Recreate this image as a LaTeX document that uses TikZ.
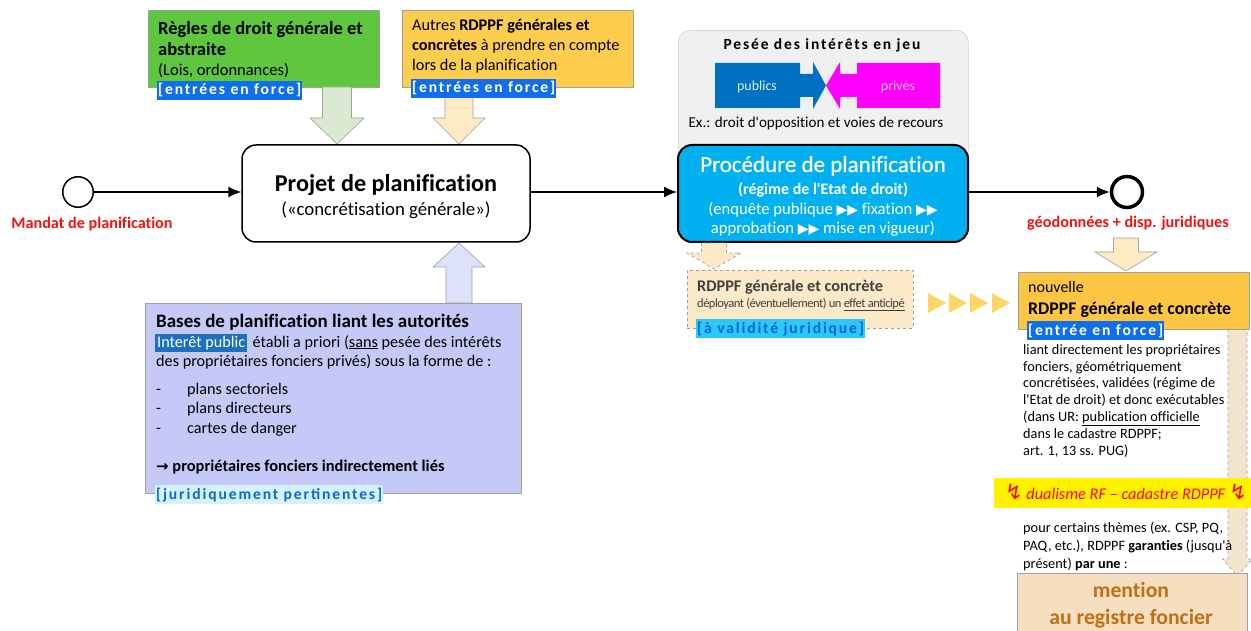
\documentclass[tikz,border=0pt]{standalone}
\usepackage{fontspec}
\setmainfont{Carlito}[Ligatures=NoCommon]
\newfontfamily\dejavu{DejaVu Sans}
\newfontfamily\spacedfont[LetterSpace=12]{Carlito}
\newfontfamily\condfont[LetterSpace=-4,Ligatures=NoCommon]{Carlito}
\newfontfamily\semibfont[FakeBold=0.7,Ligatures=NoCommon]{Carlito}
\usetikzlibrary{arrows.meta,calc}
\newcommand{\myfs}[2]{\fontsize{#1}{#2}\selectfont}
\newcommand{\apos}{\textquotesingle}
\newcommand{\tri}{{\dejavu\myfs{14}{12}▶}}
\definecolor{cgreen}{RGB}{94,198,63}
\definecolor{cyellow}{RGB}{255,205,78}
\definecolor{corange}{RGB}{253,198,66}
\definecolor{clav}{RGB}{197,201,248}
\definecolor{cbord}{RGB}{160,160,160}
\definecolor{hlblue}{RGB}{16,110,235}
\definecolor{hldark}{RGB}{28,112,190}
\definecolor{hlcyan}{RGB}{45,200,250}
\definecolor{hlpale}{RGB}{212,243,255}
\definecolor{tblue}{RGB}{10,100,220}
\definecolor{agreen}{RGB}{218,234,210}
\definecolor{ayellow}{RGB}{254,235,196}
\definecolor{ablue}{RGB}{222,225,250}
\definecolor{cgray}{RGB}{240,240,240}
\definecolor{cgrayb}{RGB}{205,205,205}
\definecolor{cpub}{RGB}{0,112,192}
\definecolor{cpriv}{RGB}{255,0,255}
\definecolor{ccyan}{RGB}{0,176,240}
\definecolor{mred}{RGB}{240,20,20}
\definecolor{cdash}{RGB}{252,233,200}
\definecolor{cbeige}{RGB}{242,228,205}
\definecolor{cmention}{RGB}{246,222,192}
\definecolor{cbrown}{RGB}{192,112,20}
\definecolor{ctri}{RGB}{255,214,102}
\definecolor{cdark}{RGB}{64,64,64}
% block arrow: [style] cx, y0, ytip, shaft half width, head half width, head length (signed)
\newcommand{\blockarrow}[7][]{%
  \draw[#1] ({#2-#5},#3) -- ({#2-#5},{#4-#7}) -- ({#2-#6},{#4-#7}) -- (#2,#4)
    -- ({#2+#6},{#4-#7}) -- ({#2+#5},{#4-#7}) -- ({#2+#5},#3) -- cycle;}
\tikzset{
  flow/.style={line width=1.6pt, -{Latex[length=13pt,width=11pt]}},
  boxs/.style={draw=cbord, line width=0.6pt, anchor=north west, inner sep=0},
  txt/.style={inner sep=0, anchor=base west, align=left},
  ctxt/.style={inner sep=0, anchor=base, align=center},
  hl/.style={inner xsep=1pt, inner ysep=1pt, text height=13pt, text depth=4pt,
    anchor=base west, font=\spacedfont\bfseries\myfs{15.6}{17}},
  barrow/.style={draw=cbord, line width=0.6pt},
  darrow/.style={draw=cbord, line width=0.7pt, dashed},
}
\begin{document}
\begin{tikzpicture}[x=1pt,y=-1pt]
\clip (0,0) rectangle (1251,631);
\fill[white] (0,0) rectangle (1251,631);

% ---------- top boxes ----------
\node[boxs, fill=cgreen, minimum width=231pt, minimum height=77pt] (green) at (148,10) {};
\node[txt, font=\bfseries\myfs{18.5}{20.5}] (greentxt) at (158,76)
  {Règles de droit générale et\\abstraite\\{\mdseries\myfs{16.5}{20.5}(Lois, ordonnances)}};

\node[boxs, fill=cyellow, minimum width=231pt, minimum height=77pt] (yel) at (402,10) {};
\node[txt, font=\myfs{16.3}{20}] (yeltxt) at (412,71)
  {Autres \textbf{RDPPF générales et}\\\textbf{concrètes} à prendre en compte\\lors de la planification};

\blockarrow[barrow, fill=agreen]{337}{87}{144}{14.5}{27}{26}
\blockarrow[barrow, fill=ayellow]{459}{87}{144}{14}{26}{26}

\node[hl, fill=hlblue, text=white] (greenhl) at (157,95) {[entrées en force]};
\node[hl, fill=hlblue, text=white] (yelhl) at (411,93) {[entrées en force]};

% ---------- start ----------
\node[circle, draw, line width=1.5pt, minimum size=30.5pt, inner sep=0] (start) at (78,192) {};
\node[ctxt, text=mred, font=\bfseries\myfs{16.2}{18}] (mandat) at (92,229) {Mandat de planification};

% ---------- projet ----------
\node[draw, line width=1.5pt, rounded corners=14pt, minimum width=288pt, minimum height=97pt, fill=white, inner sep=0] (projet) at (386,193.5) {};
\node[ctxt, font=\bfseries\myfs{24.2}{26}] (projet1) at (386,192) {Projet de planification};
\node[ctxt, font=\myfs{18.8}{20}] (projet2) at (386,216) {(«concrétisation générale»)};

% ---------- bottom-left lavender box ----------
\node[boxs, fill=clav, minimum width=376pt, minimum height=190pt] (bases) at (145,303) {};
\blockarrow[barrow, fill=ablue]{459}{303}{243}{13}{26}{-24}
\node[txt, font=\bfseries\myfs{19}{20}] (basestitle) at (156,327) {Bases de planification liant les autorités};
\node[inner xsep=2pt, inner ysep=1pt, text height=12.5pt, text depth=4pt, anchor=base west,
  fill=hldark, text=white, font=\myfs{16.2}{18}] (interet) at (155,347) {Interêt public};
\node[txt, font=\myfs{16.2}{18}] (etabli) at ($(interet.base east)+(5,0)$) {établi a priori (\underline{sans} pesée des intérêts};
\node[txt, font=\myfs{16.2}{18}] (proprio) at (156,366) {des propriétaires fonciers privés) sous la forme de :};
\node[txt, font=\myfs{16.2}{19.5}] (liste) at (156,433)
  {\makebox[31pt][l]{-}plans sectoriels\\\makebox[31pt][l]{-}plans directeurs\\\makebox[31pt][l]{-}cartes de danger};
\node[txt, font=\bfseries\myfs{16.4}{18}] (indirect) at (156,471) {{\dejavu\bfseries\myfs{15}{18}→} propriétaires fonciers indirectement liés};
\node[hl, fill=hlpale, text=tblue] (jurpert) at (155,499) {[juridiquement pertinentes]};

% ---------- pesée ----------
\node[boxs, draw=cgrayb, fill=cgray, rounded corners=12pt, minimum width=290pt, minimum height=150pt] (pesee) at (678,30) {};
\node[ctxt, font=\spacedfont\bfseries\myfs{15.5}{17}] (peseetitle) at (822,50) {Pesée des intérêts en jeu};
\fill[cpub] (715,63) -- (800,63) -- (800,74) -- (813,74) -- (813,62) -- (826,85.5)
  -- (813,109) -- (813,97) -- (800,97) -- (800,108) -- (715,108) -- cycle;
\fill[cpriv] (940,63) -- (857,63) -- (857,74) -- (840,74) -- (840,62) -- (826,85.5)
  -- (840,109) -- (840,97) -- (857,97) -- (857,108) -- (940,108) -- cycle;
\node[ctxt, text=white!88!cpub, font=\myfs{14}{16}] (publics) at (757,91) {publics};
\node[ctxt, text=white!75!cpriv, font=\myfs{14}{16}] (prives) at (898,91) {privés};
\node[ctxt, font=\myfs{15.1}{17}] (exemple) at (816,128) {Ex.: droit d\apos opposition et voies de recours};

% ---------- procédure ----------
\node[draw, line width=2pt, fill=ccyan, rounded corners=14pt, minimum width=290pt, minimum height=97pt, inner sep=0] (proc) at (823,193.5) {};
\node[ctxt, text=white, font=\semibfont\myfs{23}{26}] (proc1) at (823,172) {Procédure de planification};
\node[ctxt, text=white, font=\myfs{16.6}{19.5}] (proc2) at (823,234)
  {{\bfseries\myfs{16}{19.5}(régime de l\apos Etat de droit)}\\(enquête publique \tri\tri\ fixation \tri\tri\\approbation \tri\tri\ mise en vigueur)};

% ---------- end ----------
\node[circle, draw, line width=3.5pt, minimum size=31pt, inner sep=0] (end) at (1127,192) {};
\node[ctxt, text=mred, font=\bfseries\myfs{16.2}{18}] (geod) at (1128,228) {géodonnées + disp. juridiques};

% ---------- flows ----------
\draw[flow] (start) -- (projet.west |- start);
\draw[flow] (projet.east |- start) -- (proc.west |- start);
\draw[flow] (proc.east |- start) -- (end);

% ---------- dashed box ----------
\node[boxs, draw=cbord, dashed, line width=0.7pt, fill=cdash, minimum width=226pt, minimum height=58pt] (anticipe) at (687,270) {};
\blockarrow[darrow, fill=cdash]{714}{243}{269}{12.5}{27}{16}
\node[txt, text=cdark, font=\bfseries\myfs{16.3}{18}] (anticipe1) at (697,291) {RDPPF générale et concrète};
\node[txt, text=cdark, font=\condfont\myfs{12.5}{14}] (anticipe2) at (697,307) {déployant (éventuellement) un \underline{effet anticipé}};
\node[hl, fill=hlcyan, text=tblue] (validite) at (696,333) {[à validité juridique]};

% triangles
\foreach \xx in {928,949,970,992}
  \fill[ctri] (\xx,293) -- ({\xx+18},303) -- (\xx,313) -- cycle;

% ---------- right column ----------
\blockarrow[barrow, fill=ayellow]{1126}{238}{271}{12.5}{31}{19}
\blockarrow[darrow, fill=cbeige]{1237.5}{329}{576}{9.5}{15}{17}
\node[boxs, fill=corange, minimum width=231pt, minimum height=57pt] (nouv) at (1018,272) {};
\node[txt, font=\myfs{16}{22}] (nouv1) at (1028,292) {nouvelle};
\node[txt, font=\bfseries\myfs{17.8}{22}] (nouv2) at (1028,314) {RDPPF générale et concrète};
\node[hl, fill=hlblue, text=white] (nouvhl) at (1027,335) {[entrée en force]};
\node[txt, font=\myfs{14.3}{16.8}] (liant) at (1023,455)
  {liant directement les propriétaires\\fonciers, géométriquement\\concrétisées, validées (régime de\\l\apos Etat de droit) et donc exécutables\\(dans UR: \underline{publication officielle}\\dans le cadastre RDPPF;\\art. 1, 13 ss. PUG)};

\node[boxs, draw=none, fill=yellow, minimum width=257pt, minimum height=30pt] (dual) at (994,478) {};
\node[ctxt, text=red, font=\myfs{16.3}{18}] (dualtxt) at (1126,499)
  {{\dejavu\myfs{21}{18}↯}~\textit{dualisme RF – cadastre RDPPF}~{\dejavu\myfs{21}{18}↯}};

\node[txt, font=\myfs{14.3}{18}] (pour) at (1023,568)
  {pour certains thèmes (ex. CSP, PQ,\\PAQ, etc.), RDPPF \textbf{garanties} (jusqu\apos à\\présent) \textbf{par une} :};

\node[boxs, fill=cmention, minimum width=230pt, minimum height=80pt] (mention) at (1017,573) {};
\node[ctxt, text=cbrown, font=\bfseries\myfs{21.7}{27}] (mentiontxt) at (1131,624) {mention\\au registre foncier};
\end{tikzpicture}
\end{document}
